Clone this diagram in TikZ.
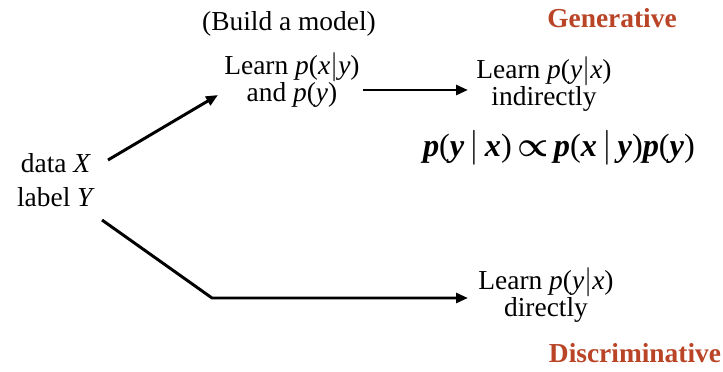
\documentclass[tikz,border=0pt]{standalone}
\usepackage{fontspec}
\setmainfont{Liberation Serif}
\usepackage{tikz}
\usetikzlibrary{arrows.meta}

\definecolor{genred}{RGB}{185,68,38}
\newcommand{\bv}[1]{\textbf{\textit{#1}}}

\begin{document}
\begin{tikzpicture}[x={(0.025cm,0cm)}, y={(0cm,-0.025cm)},
    font=\fontsize{19.5}{19.5}\selectfont, >={Triangle[length=8.5pt,width=7pt]},
    txt/.style={align=center, inner sep=0pt},
    head/.style={inner sep=0pt, font=\fontsize{19.5}{19.5}\selectfont\bfseries, text=genred},
    flow/.style={->, line width=2.1pt}]
    \useasboundingbox (0,0) rectangle (723,372);
    % ---------------- input
    \node[txt, font=\fontsize{19.5}{24}\selectfont] (data) at (56,180) {data \textit{X}\\label \textit{Y}};
    % ---------------- generative branch
    \node[txt] (build) at (289,24) {(Build a model)};
    \node[txt] (model) at (292,80) {Learn \textit{p}(\textit{x}$|$\textit{y})\\and \textit{p}(\textit{y})};
    \node[txt] (indirect) at (544,84) {Learn \textit{p}(\textit{y}$|$\textit{x})\\indirectly};
    \node[txt, font=\fontsize{23}{26}\selectfont] (bayes) at (559,148)
      {\bv{p}(\bv{y}\,$|$\,\bv{x})\,{\boldmath$\propto$}\,\bv{p}(\bv{x}\,$|$\,\bv{y})\bv{p}(\bv{y})};
    \node[head] (gen) at (612,18) {Generative};
    % ---------------- discriminative branch
    \node[txt] (direct) at (546,295) {Learn \textit{p}(\textit{y}$|$\textit{x})\\directly};
    \node[head] (disc) at (635,353) {Discriminative};
    \coordinate (bend) at (212,298);
    % ---------------- arrows
    \draw[flow] ([shift={(52,-20)}]data.center) -- ([shift={(-74,15)}]model.center);
    \draw[flow] ([shift={(71,10)}]model.center) -- ([shift={(-76,6)}]indirect.center);
    \draw[flow] ([shift={(46,40)}]data.center) -- (bend) -- ([shift={(-78,0)}]direct.center |- bend);
\end{tikzpicture}
\end{document}
